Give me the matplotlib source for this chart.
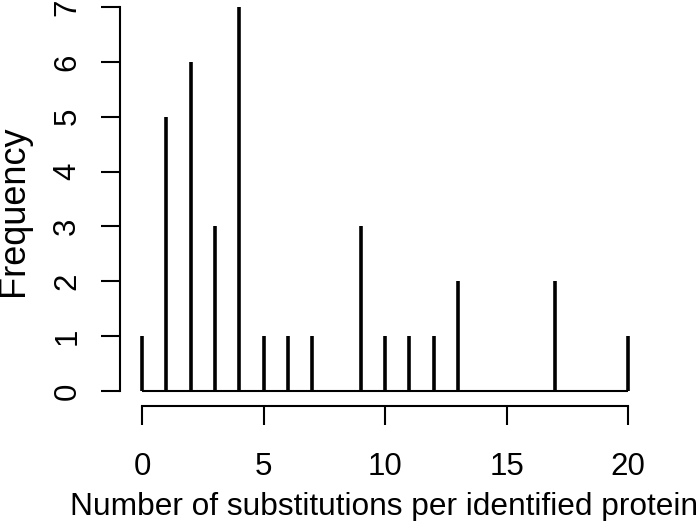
import numpy as np
import matplotlib
matplotlib.use("Agg")
import matplotlib.pyplot as plt

plt.rcParams['font.family'] = ['Liberation Sans', 'DejaVu Sans']

# substitutions per protein and how many proteins had that count
subs = [0, 1, 2, 3, 4, 5, 6, 7, 9, 10, 11, 12, 13, 17, 20]
freq = [1, 5, 6, 3, 7, 1, 1, 1, 3, 1, 1, 1, 2, 2, 1]
xticks = [0, 5, 10, 15, 20]
yticks = [0, 1, 2, 3, 4, 5, 6, 7]

W, H = 700, 521
fig = plt.figure(figsize=(W / 100, H / 100), dpi=100)
ax = fig.add_axes([142 / W, (H - 391) / H, 486 / W, 384 / H])

# baseline then the spikes
ax.hlines(0, min(subs), max(subs), color='black', lw=1.5, clip_on=False)
ax.vlines(subs, 0, freq, color='black', lw=2.6, clip_on=False)

ax.set_xlim(0, 20)
ax.set_ylim(0, 7)
ax.set_xticks(xticks)
ax.set_yticks(yticks)

for s in ['top', 'right']:
    ax.spines[s].set_visible(False)
ax.spines['left'].set_position(('outward', 16))
ax.spines['bottom'].set_position(('outward', 11))
ax.spines['left'].set_bounds(0, 7)
ax.spines['bottom'].set_bounds(0, 20)
for s in ['left', 'bottom']:
    ax.spines[s].set_linewidth(1.5)

ax.tick_params(axis='both', length=14, width=1.5, labelsize=22.5)
ax.tick_params(axis='x', pad=19)
ax.tick_params(axis='y', pad=13, labelrotation=90)
for lab in ax.get_yticklabels():
    lab.set_va('center')

fig.text(384 / W, 1 - 492 / H, 'Number of substitutions per identified protein',
         fontsize=22.8, ha='center', va='top')
fig.text(31 / W, 1 - 211 / H, 'Frequency', fontsize=26, rotation=90,
         ha='right', va='center')

fig.savefig('out.png', dpi=100)
